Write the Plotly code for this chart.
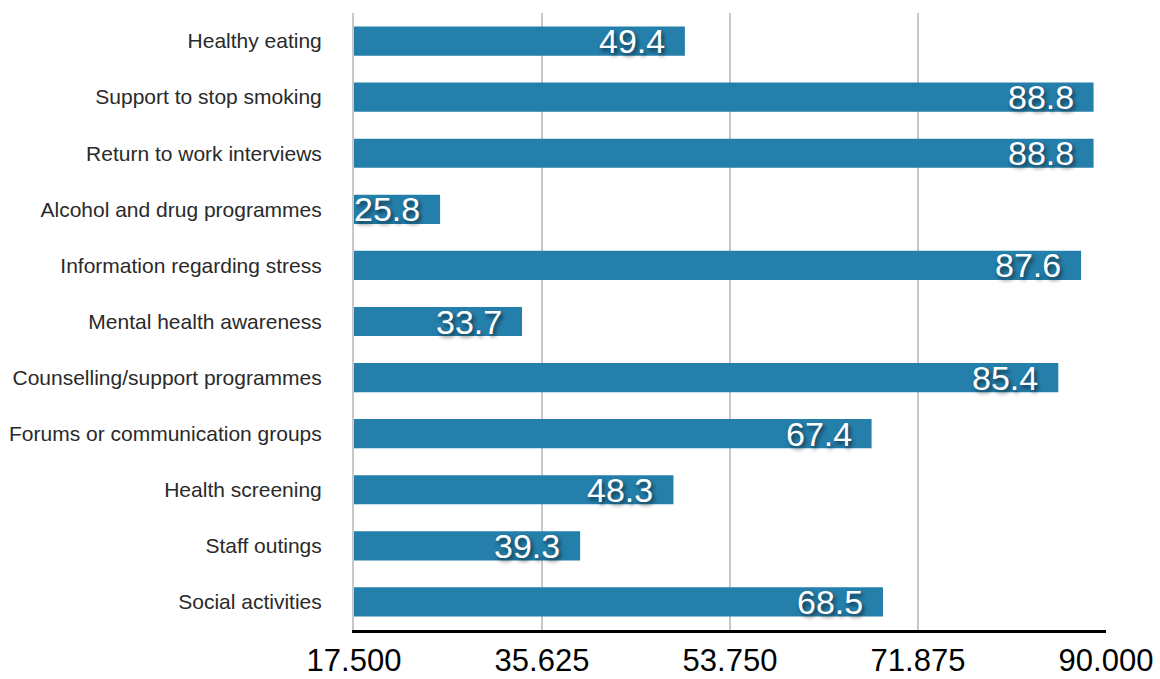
import plotly.graph_objects as go

categories = [
    "Healthy eating",
    "Support to stop smoking",
    "Return to work interviews",
    "Alcohol and drug programmes",
    "Information regarding stress",
    "Mental health awareness",
    "Counselling/support programmes",
    "Forums or communication groups",
    "Health screening",
    "Staff outings",
    "Social activities",
]
values = [49.4, 88.8, 88.8, 25.8, 87.6, 33.7, 85.4, 67.4, 48.3, 39.3, 68.5]
x_ticks = [17.5, 35.625, 53.75, 71.875, 90.0]
x_tick_labels = ["17.500", "35.625", "53.750", "71.875", "90.000"]
x_min, x_max = 17.5, 90.0

bar_color = "#257fab"
font_family = "Liberation Sans, Arial, Helvetica, sans-serif"

fig = go.Figure()
fig.add_trace(go.Bar(
    x=[v - x_min for v in values],
    y=categories,
    orientation="h",
    base=x_min,
    marker=dict(color=bar_color, line=dict(width=0)),
    hoverinfo="skip",
))

for c, v in zip(categories, values):
    fig.add_annotation(
        x=v, y=c, xref="x", yref="y",
        text=f"{v:.1f}",
        showarrow=False,
        xanchor="right", yanchor="middle",
        xshift=-18, yshift=0,
        font=dict(family=font_family, size=34, color="white",
                  shadow="2px 3px 4px rgba(0,0,0,0.6)"),
    )

fig.update_layout(
    width=1160, height=679,
    margin=dict(l=354, r=54, t=13, b=49, autoexpand=False),
    paper_bgcolor="white",
    plot_bgcolor="white",
    showlegend=False,
    bargap=0.48,
    font=dict(family=font_family),
)
fig.update_xaxes(
    range=[x_min, x_max],
    tickmode="array",
    tickvals=x_ticks,
    ticktext=x_tick_labels,
    showgrid=True,
    gridcolor="#c8c8c8",
    gridwidth=2,
    zeroline=False,
    showline=True,
    linecolor="black",
    linewidth=3,
    ticks="",
    automargin=False,
    ticklabeloverflow="allow",
    ticklabelstandoff=1,
    tickfont=dict(size=31, color="black", family=font_family),
)
fig.update_yaxes(
    autorange="reversed",
    showgrid=False,
    zeroline=False,
    showline=True,
    linecolor="#c8c8c8",
    linewidth=2,
    ticks="",
    automargin=False,
    ticklabelstandoff=26,
    tickfont=dict(size=21, color="#2a2a2a", family=font_family),
)

fig.write_html("out.html")
